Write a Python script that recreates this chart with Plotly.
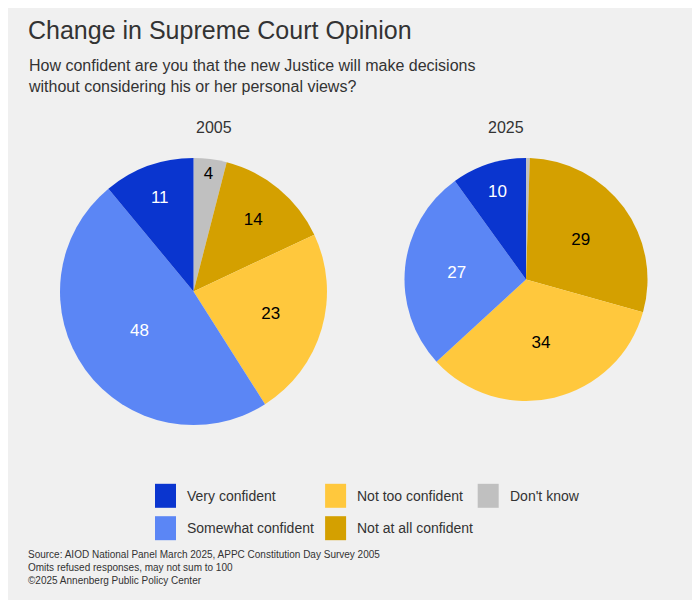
import plotly.graph_objects as go

categories = ["Don't know", "Not at all confident", "Not too confident", "Somewhat confident", "Very confident"]
values_2005 = [4, 14, 23, 48, 11]
values_2025 = [0.5, 29, 34, 27, 10]
colors = ["#c0c0c0", "#d4a000", "#ffc83d", "#5b86f5", "#0a35cf"]
text_colors = ["black", "black", "black", "white", "white"]

fig = go.Figure()

def add_pie(vals, dom, show_text):
    fig.add_trace(go.Pie(
        labels=categories, values=vals, sort=False, direction="clockwise", rotation=0,
        marker=dict(colors=colors), domain=dom, showlegend=False,
        text=[str(v) if s else "" for v, s in zip(vals, show_text)],
        textinfo="text", textposition="inside", insidetextorientation="horizontal",
        textfont=dict(color=text_colors, size=17), hoverinfo="label+value",
    ))

add_pie(values_2005, dict(x=[0.07, 0.46], y=[0.305, 0.75]), [True] * 5)
add_pie(values_2025, dict(x=[0.55, 0.93], y=[0.345, 0.75]), [False, True, True, True, True])

# hand-drawn legend: (name, column x, row y) in paper coords
legend_items = [("Very confident", 0.21, 0.187), ("Not too confident", 0.453, 0.187), ("Don't know", 0.671, 0.187),
                ("Somewhat confident", 0.21, 0.133), ("Not at all confident", 0.453, 0.133)]
shapes = []
annotations = []
for name, lx, ly in legend_items:
    shapes.append(dict(type="rect", xref="paper", yref="paper", x0=lx, x1=lx + 0.03,
                       y0=ly - 0.02, y1=ly + 0.02, line=dict(width=0),
                       fillcolor=colors[categories.index(name)]))
    annotations.append(dict(text=name, x=lx + 0.043, y=ly, xref="paper", yref="paper",
                            xanchor="left", yanchor="middle", showarrow=False,
                            font=dict(size=14, color="#333")))

fig.update_layout(
    width=700, height=600, margin=dict(l=0, r=0, t=0, b=0),
    paper_bgcolor="#f0f0f0", plot_bgcolor="#f0f0f0",
    font=dict(family="Liberation Sans, Arial, sans-serif", color="#333"),
    xaxis=dict(visible=False), yaxis=dict(visible=False),
    shapes=shapes,
    annotations=annotations + [
        dict(text="Change in Supreme Court Opinion", x=0.025, y=0.99, xref="paper", yref="paper",
             xanchor="left", yanchor="top", showarrow=False, font=dict(size=25, color="#333")),
        dict(text="How confident are you that the new Justice will make decisions<br>without considering his or her personal views?",
             x=0.025, y=0.922, xref="paper", yref="paper", xanchor="left", yanchor="top",
             showarrow=False, align="left", font=dict(size=16, color="#333")),
        dict(text="2005", x=0.266, y=0.818, xref="paper", yref="paper", showarrow=False,
             font=dict(size=16, color="#333")),
        dict(text="2025", x=0.74, y=0.818, xref="paper", yref="paper", showarrow=False,
             font=dict(size=16, color="#333")),
        dict(text="Source: AIOD National Panel March 2025, APPC Constitution Day Survey 2005<br>Omits refused responses, may not sum to 100<br>©2025 Annenberg Public Policy Center",
             x=0.025, y=0.033, xref="paper", yref="paper", xanchor="left", yanchor="bottom",
             showarrow=False, align="left", font=dict(size=10, color="#333")),
    ],
)

fig.write_html("out.html")
